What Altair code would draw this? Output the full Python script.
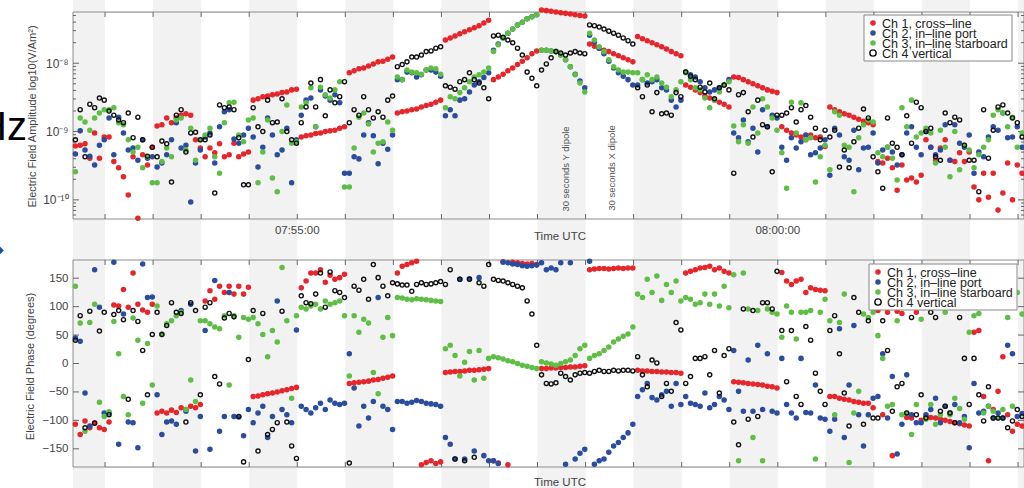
import altair as alt
import pandas as pd

# ---------------- categories / styling ----------------
CHANNELS = ["Ch 1, cross–line", "Ch 2, in–line port", "Ch 3, in–line starboard", "Ch 4 vertical"]
FILLS = ["#e5262b", "#2b4d9e", "#5fbe45", "transparent"]
STROKES = ["#e5262b", "#2b4d9e", "#5fbe45", "#111111"]
SIZES = [17, 17, 17, 40]

# sample times: seconds after 07:50:00, one sample every 3 s from 07:52:41.5
T_START = 161.5
T_STEP = 3.0
N_SAMPLES = 198
TIMES = [T_START + T_STEP * i for i in range(N_SAMPLES)]

# 30-s shaded intervals (seconds after 07:50:00)
BAND_START = [160, 210, 270, 330, 390, 450, 510, 570, 630, 690, 750]
BAND_END = [180, 240, 300, 360, 420, 480, 540, 600, 660, 720, 753.7]
TICK_T = [180 + 30 * i for i in range(20)]
TIME_LABEL_T = [300, 600]
TIME_LABELS = ["07:55:00", "08:00:00"]

# ---------------- amplitude, log10(V/Am^2) ----------------
AMP_CH1 = [
    -9.21, -9.20, -9.18, -9.39, -9.02, -9.39, -9.08,
    -9.08, -9.44, -9.53, -9.66, -9.93, -9.37, -10.27, -9.34, -9.49, -9.23,
    -8.92, -8.90, -8.80, -8.87, -8.80, -8.76, -8.74, -8.76, -9.12, -9.24,
    -9.37, -9.24, -9.31, -9.18, -9.37, -9.34, -9.17, -9.37, -9.33, -9.30,
    -8.54, -8.52, -8.49, -8.48, -8.46, -8.45, -8.43, -8.42, -8.39, -8.38,
    -9.08, -9.06, -9.05, -9.03, -9.02, -9.00, -8.99, -8.98, -8.95, -8.93,
    -8.14, -8.11, -8.08, -8.07, -8.04, -8.01, -7.98, -7.97, -7.94, -7.91,
    -8.73, -8.71, -8.70, -8.68, -8.67, -8.64, -8.62, -8.60, -8.57, -8.54,
    -7.66, -7.63, -7.60, -7.57, -7.54, -7.51, -7.48, -7.45, -7.41, -7.37,
    -8.24, -8.20, -8.16, -8.11, -8.07, -8.02, -7.97, -7.92, -7.86, -7.82,
    -7.22, -7.23, -7.24, -7.25, -7.26, -7.27, -7.28, -7.29, -7.30, -7.31,
    -7.72, -7.75, -7.78, -7.81, -7.83, -7.86, -7.89, -7.92, -7.95, -7.98,
    -7.61, -7.64, -7.67, -7.70, -7.73, -7.76, -7.79, -7.83, -7.86, -7.89,
    -8.32, -8.35, -8.39, -8.43, -8.48, -8.51, -8.54, -8.57, -8.60, -8.64,
    -8.20, -8.21, -8.24, -8.27, -8.30, -8.33, -8.36, -8.39, -8.41, -8.43,
    -8.93, -8.98, -9.02, -9.05, -9.08, -9.12, -9.05, -9.09, -9.08, -9.22,
    -8.64, -8.68, -8.71, -8.74, -8.76, -8.79, -8.82, -8.85, -8.87, -8.90,
    -9.44, -9.46, -9.39, -9.53, -9.86, -9.49, -9.71, -9.68, -9.74, -9.64,
    -9.12, -9.23, -9.42, -9.24, -9.12, -9.42, -9.44, -9.31, -9.44, -9.30,
    -9.81, -10.0, -9.61, -9.96, -9.61, -10.15, -9.90, -9.46, -10.0, -9.49, -9.61,
]
AMP_CH2 = [
    -9.33, -8.99, -9.27, -9.36, -9.49, -9.20, -9.12,
    -8.80, -9.34, -8.79, -9.02, -9.27, -9.24, -9.42, -9.12, -9.39, -9.37,
    -9.52, -9.46, -9.34, -9.12, -8.87, -9.24, -9.20, -10.03, -9.46, -9.27,
    -9.08, -9.02, -9.46, -8.93, -8.71, -8.68, -9.11, -9.17, -9.05, -8.95,
    -9.08, -9.52, -9.23, -8.80, -9.05, -9.34, -9.27, -8.95, -9.75, -9.12,
    -8.76, -8.54, -8.51, -8.93, -8.39, -8.48, -8.54, -8.46, -8.58, -9.61,
    -9.61, -9.37, -9.40, -9.05, -8.87, -9.06, -9.47, -9.17, -9.26, -9.05,
    -8.24, -8.24, -8.13, -8.14, -8.20, -8.17, -8.10, -8.10, -8.13, -8.19,
    -8.77, -8.68, -8.77, -8.54, -8.52, -8.42, -8.32, -8.27, -8.21, -8.14,
    -7.81, -7.72, -7.63, -7.56, -7.50, -7.44, -7.40, -7.35, -7.32, -7.29,
    -7.81, -7.81, -7.82, -7.83, -7.88, -7.95, -8.05, -8.16, -8.26, -8.36,
    -7.59, -7.69, -7.78, -7.86, -7.97, -8.07, -8.14, -8.19, -8.24, -8.32,
    -8.32, -8.24, -8.29, -8.27, -8.24, -8.36, -8.39, -8.54, -8.64, -8.54,
    -8.13, -8.17, -8.20, -8.27, -8.36, -8.42, -8.39, -8.36, -8.32, -8.24,
    -9.02, -9.09, -8.83, -9.15, -8.95, -9.30, -8.68, -8.93, -8.76, -8.80,
    -9.23, -9.42, -9.09, -9.24, -9.15, -9.05, -9.34, -9.31, -9.24, -9.12,
    -9.64, -8.95, -9.05, -9.37, -9.42, -8.98, -9.56, -9.24, -9.23, -9.02,
    -9.46, -9.27, -9.23, -9.30, -9.49, -9.34, -9.02, -8.93, -9.23, -9.34,
    -9.00, -9.23, -9.34, -9.27, -8.90, -9.42, -8.90, -9.17, -9.23, -9.05,
    -9.61, -9.30, -9.37, -9.08, -8.93, -8.98, -8.73, -9.09, -9.08, -8.93, -9.23,
]
AMP_CH3 = [
    -9.59, -8.80, -8.86, -8.98, -8.80, -8.73, -8.68,
    -8.68, -8.65, -8.87, -8.90, -9.12, -9.30, -9.23, -9.53, -9.37, -9.75,
    -9.75, -9.44, -9.24, -9.37, -8.83, -8.80, -9.27, -8.95, -9.42, -9.12,
    -9.05, -8.95, -9.37, -9.61, -8.87, -8.58, -8.57, -9.05, -9.15, -8.83,
    -8.80, -9.75, -9.30, -8.83, -9.68, -9.88, -9.00, -8.61, -9.17, -9.15,
    -8.64, -8.58, -8.36, -8.93, -8.35, -8.46, -8.51, -8.39, -8.27, -9.81,
    -9.81, -9.24, -8.79, -8.73, -8.89, -9.30, -9.17, -9.15, -8.86, -8.98,
    -8.20, -8.24, -8.10, -8.13, -8.14, -8.16, -8.10, -8.07, -8.08, -8.16,
    -8.65, -8.49, -8.52, -8.43, -8.36, -8.27, -8.20, -8.17, -8.13, -8.07,
    -7.83, -7.73, -7.63, -7.56, -7.50, -7.44, -7.40, -7.35, -7.32, -7.29,
    -7.81, -7.81, -7.82, -7.83, -7.88, -7.95, -8.05, -8.17, -8.29, -8.42,
    -7.56, -7.66, -7.76, -7.83, -7.95, -8.05, -8.10, -8.13, -8.13, -8.14,
    -8.14, -8.24, -8.17, -8.24, -8.20, -8.29, -8.35, -8.49, -8.39, -8.27,
    -8.14, -8.24, -8.36, -8.39, -8.51, -8.65, -8.54, -8.42, -8.32, -8.27,
    -8.92, -9.15, -8.90, -9.17, -8.64, -9.02, -8.52, -8.64, -8.80, -8.98,
    -9.31, -9.83, -8.57, -9.02, -8.58, -9.12, -9.09, -9.74, -9.37, -9.20,
    -9.56, -8.71, -8.76, -9.20, -9.23, -9.88, -9.09, -8.90, -8.83, -8.86,
    -9.31, -9.37, -9.23, -9.39, -9.71, -8.65, -8.93, -8.54, -9.08, -9.02,
    -8.95, -9.02, -9.46, -8.98, -9.23, -9.66, -9.00, -9.56, -9.20, -9.27,
    -9.53, -9.34, -9.23, -9.12, -8.76, -8.68, -8.73, -8.93, -8.79, -9.23, -9.02,
]
AMP_CH4 = [
    -9.12, -8.68, -9.37, -8.60, -8.65, -8.51, -8.54,
    -8.70, -8.76, -8.83, -8.87, -8.73, -9.09, -8.79, -9.12, -9.36, -9.23,
    -9.37, -9.14, -9.18, -9.74, -8.76, -8.68, -9.30, -9.02, -9.01, -9.12,
    -9.12, -9.05, -9.90, -8.61, -8.65, -8.64, -8.68, -9.09, -9.78, -9.78,
    -8.65, -8.93, -9.00, -8.54, -8.87, -8.86, -8.52, -9.00, -9.12, -9.17,
    -8.87, -8.64, -8.29, -8.64, -8.24, -8.77, -8.39, -8.58, -8.49, -8.27,
    -8.87, -8.68, -8.76, -8.49, -8.68, -8.80, -8.71, -8.79, -8.54, -8.48,
    -8.05, -8.02, -7.98, -7.91, -7.91, -7.88, -7.83, -7.82, -7.78, -7.76,
    -8.33, -8.35, -8.38, -8.27, -8.24, -8.14, -8.24, -8.29, -8.36, -8.52,
    -7.60, -7.59, -7.62, -7.66, -7.70, -7.78, -7.88, -8.13, -8.22, -8.33,
    -8.10, -8.01, -7.92, -7.83, -7.85, -7.88, -7.85, -7.83, -7.85, -7.86,
    -7.44, -7.45, -7.47, -7.50, -7.53, -7.56, -7.59, -7.63, -7.67, -7.72,
    -8.36, -8.49, -8.32, -8.71, -8.43, -8.74, -8.73, -8.76, -8.43, -8.49,
    -8.13, -8.19, -8.24, -8.35, -8.42, -8.29, -8.52, -8.36, -8.32, -8.39,
    -9.61, -8.46, -8.43, -8.71, -9.08, -8.54, -8.90, -8.93, -9.59, -8.76,
    -8.76, -8.73, -8.65, -8.86, -8.68, -8.62, -8.79, -8.95, -9.12, -8.98,
    -9.08, -8.98, -9.52, -9.27, -9.53, -9.15, -8.95, -8.67, -8.80, -9.37,
    -9.59, -9.83, -8.80, -9.17, -9.23, -9.34, -8.77, -9.17, -8.57, -8.65,
    -9.00, -8.95, -9.37, -9.42, -8.73, -8.87, -8.79, -8.83, -9.20, -9.42,
    -9.42, -9.88, -8.68, -9.39, -8.98, -8.64, -8.61, -8.73, -8.80, -8.87, -9.08,
]

# ---------------- phase, degrees ----------------
PH_CH1 = [
    -107, -125, -101, -113, -104, -113, -116,
    -103, 103, 101, 130, 99, 159, 104, 94, 90, 104,
    -87, -84, -87, -82, -86, -78, -81, -75, -78, -72,
    110, 128, 113, 136, 125, 136, 122, 136, 122, 134,
    -58, -57, -55, -53, -52, -50, -48, -46, -44, -42,
    133, 145, 159, 159, 165, 143, 155, 148, 151, 157,
    -35, -34, -33, -32, -31, -29, -28, -26, -24, -22,
    159, 171, 174, 177, 180, -178, -174, -171, -176, -173,
    -16, -15, -14, -14, -13, -12, -12, -11, -10, -9,
    -171, -175, 179, -178, 178, 177, 176, 175, 176, 174,
    -9, -9, -8, -8, -7, -7, -6, -6, -5, -4,
    165, 166, 167, 167, 166, 167, 168, 167, 168, 168,
    -12, -13, -13, -14, -14, -15, -15, -16, -16, -17,
    159, 162, 165, 168, 169, 171, 165, 168, 162, 159,
    -32, -33, -34, -35, -36, -37, -38, -40, -41, -43,
    160, 145, 139, 145, 148, 125, 133, 130, 129, 128,
    -58, -58, -61, -63, -64, -67, -68, -70, -70, -78,
    93, -90, 90, -162, 92, 88, -95, -96, 90, -100,
    -93, -95, -96, -98, -100, -102, -104, -106, -108, -110,
    55, 58, -58, -171, -81, -49, 12, -90, -119, -107, -110,
]
PH_CH2 = [
    45, 39, -52, -110, 165, 99, -87,
    -87, 178, -142, 87, -103, -104, -148, 175, 116, 117,
    -55, -125, -103, -101, -107, 93, -84, 104, -154, -93,
    58, -151, 146, -119, -93, 125, -93, -94, -127, -81,
    -104, -87, -75, -130, -93, 110, -81, -90, -104, 59,
    -75, -81, -87, -78, -70, -81, -64, -70, -72, -70,
    17, -43, -110, -75, -96, -67, 116, -75, -81, -116,
    -67, -67, -70, -68, -65, -67, -70, -71, -72, -75,
    -130, -142, -168, 148, -168, 149, -154, 151, -162, -171,
    -171, -176, 178, 177, 175, 174, 172, 171, 172, 173,
    177, 165, 168, 165, 177, -177, 177, -168, -158, -151,
    180, -177, -171, -168, -156, -145, -139, -130, -122, -107,
    -58, -46, -35, -60, -64, -55, -49, -75, -35, -72,
    -58, -70, -72, -75, -52, -78, -72, -58, -64, -81,
    23, -49, -84, 6, -84, 32, -81, 17, -84, -87,
    9, -72, -87, -96, 9, -86, -87, -38, -96, -98,
    -119, -98, 61, -130, -38, 67, -90, -145, -90, -61,
    -58, 17, -96, -23, -159, -107, -20, -90, -104, -104,
    -90, -81, -61, -104, -75, -87, -72, -104, -93, -148,
    -35, -87, -84, -75, -96, -87, -96, 32, 17, -93, -88,
]
PH_CH3 = [
    136, 71, -119, 72, 104, -68, -93,
    -85, 74, 17, -58, -90, 80, 41, -70, 35, -38,
    101, 52, 70, 75, 84, 90, -81, -29, -67, 75,
    75, 70, 64, 61, 84, -38, 84, 46, 81, 78,
    81, 70, 51, 12, 58, 38, 169, 75, -61, 84,
    99, 96, 101, 104, 96, 110, 104, 107, 110, 84,
    -22, 84, 55, 78, 71, -16, -53, 46, 81, 49,
    116, 115, 113, 112, 114, 113, 112, 111, 110, 109,
    26, 32, 14, -22, 2, 21, -29, 23, -26, 9,
    12, 10, 8, 5, 3, 0, -3, -5, -7, -9,
    3, 1, -1, -3, 0, 3, 6, 14, 26, 32,
    9, 14, 17, 23, 29, 38, 43, 48, 52, 64,
    122, 116, 148, 125, 154, 111, 139, 125, 145, 110,
    116, 113, 104, 107, 122, 104, 122, 101, 136, 98,
    156, -171, 159, 96, -130, 93, -171, 96, 90, 87,
    46, 101, 90, 43, 90, 90, 93, -168, 90, 113,
    75, -90, 72, 122, -174, -87, -49, 87, 81, 90,
    49, 9, -75, -72, 75, -90, -87, -125, -72, 78,
    -98, -72, -107, -90, 90, -90, -61, -79, -98, 55,
    84, 88, -87, -75, -84, -96, -81, 81, -75, 125, 87,
]
PH_CH4 = [
    41, 84, -113, 92, -105, 57, 90,
    -90, 86, 93, 77, -63, 93, 74, 23, -55, 51,
    90, 51, 67, 107, 90, 88, -103, 107, 93, -55,
    99, 107, -23, -36, 80, 88, 82, -93, -173, 7,
    93, -154, 88, -125, -116, -104, 92, -103, -145, -167,
    119, 107, 105, 122, 159, 99, 161, 128, 125, 116,
    -175, 136, 129, 148, 113, 174, 151, 136, 119, 142,
    140, 138, 138, 127, 139, 142, 139, 140, 142, 144,
    139, 165, -168, 148, -171, 148, -165, 142, 136, 174,
    148, 146, 145, 142, 139, 136, 133, 110, 87, 32,
    -20, -35, -36, -34, -17, -23, -29, -20, -17, -16,
    -17, -14, -12, -14, -14, -12, -13, -12, -12, -13,
    12, -20, -41, 6, 1, -58, -35, -49, 72, 59,
    -35, -23, 9, 9, 12, -20, 23, -52, 14, 26,
    -103, -143, 96, -98, 93, -93, 107, 107, 96, 162,
    58, -32, 58, -58, -72, 65, 41, -17, -49, -72,
    58, 84, 17, -52, -110, 116, 90, -107, 75, -96,
    -96, 75, 23, -84, -41, -35, -87, 81, -90, -55,
    -96, 90, 81, -84, -75, -87, -104, 81, 9, -72,
    9, -55, -101, -41, -96, -96, -96, -113, -101, -81, -93,
]

# ---------------- layout ----------------
W = 951            # plot width (px)
PH = 207           # each panel's height
GAP = 41           # gap between panels
HT = PH + GAP + PH  # whole view height
B0 = PH + GAP      # top of lower panel
FONT = "Liberation Sans"
TXT = "#444444"
FRAME = "#8c8c8c"
TICK = "#666666"


def long_df(series, amplitude):
    rows = []
    for ch, vals in zip(CHANNELS, series):
        for t, v in zip(TIMES, vals):
            rows.append({"t": t, "v": (10 ** v) if amplitude else v, "ch": ch})
    return pd.DataFrame(rows)


x_scale = alt.Scale(domain=[160, 753.7], nice=False, zero=False)
x_axis = alt.Axis(values=TIME_LABEL_T,
                  labelExpr="datum.value == 300 ? '07:55:00' : '08:00:00'",
                  ticks=False, domain=False, grid=False, title=None,
                  labelFontSize=11.5, labelColor=TXT, labelFont=FONT, labelPadding=5)
X = alt.X("t:Q", scale=x_scale, axis=x_axis)
Xn = alt.X("t:Q", scale=x_scale, axis=None)

amp_scale = alt.Scale(type="log", domain=[10 ** -10.28, 10 ** -7.25], nice=False,
                      range=[PH, 0])
ph_scale = alt.Scale(domain=[-182, 182], nice=False, zero=False, range=[HT, B0])

amp_major = [1e-10, 1e-9, 1e-8]
amp_minor = [k * 10.0 ** e for e in (-11, -10, -9, -8) for k in range(2, 10)
             if 10 ** -10.28 < k * 10.0 ** e < 10 ** -7.25]
ph_major = [-150, -100, -50, 0, 50, 100, 150]

amp_axis = alt.Axis(values=amp_major, orient="left",
                    labelExpr="round(log(datum.value)/LN10) == -8 ? '10⁻⁸' : "
                              "round(log(datum.value)/LN10) == -9 ? '10⁻⁹' : '10⁻¹⁰'",
                    ticks=False, domain=False, grid=False,
                    title="Electric Field Amplitude log10(V/Am²)",
                    titleX=-41, titleY=104, titleAngle=270, titleAlign="center",
                    titleBaseline="middle", titleFontSize=11, titleFontWeight="normal",
                    titleColor=TXT, titleFont=FONT,
                    labelFontSize=12, labelColor=TXT, labelFont=FONT, labelPadding=5)
ph_axis = alt.Axis(values=ph_major, orient="left",
                   labelExpr="replace(format(datum.value, 'd'), '-', '−')",
                   ticks=False, domain=False, grid=False,
                   title="Electric Field Phase (degrees)",
                   titleX=-43, titleY=B0 + 106, titleAngle=270, titleAlign="center",
                   titleBaseline="middle", titleFontSize=11, titleFontWeight="normal",
                   titleColor=TXT, titleFont=FONT,
                   labelFontSize=11.5, labelColor=TXT, labelFont=FONT, labelPadding=5)


def points(df, yscale, yaxis):
    return alt.Chart(df).mark_point(opacity=1, strokeWidth=1.4).encode(
        x=X,
        y=alt.Y("v:Q", scale=yscale, axis=yaxis),
        fill=alt.Fill("ch:N", scale=alt.Scale(domain=CHANNELS, range=FILLS), legend=None),
        stroke=alt.Stroke("ch:N", scale=alt.Scale(domain=CHANNELS, range=STROKES), legend=None),
        size=alt.Size("ch:N", scale=alt.Scale(domain=CHANNELS, range=SIZES), legend=None),
    )


def text_mark(s, x, y, size=11.5, color=TXT, angle=0, font=FONT, align="center",
              baseline="middle"):
    return alt.Chart(pd.DataFrame({"s": [s]})).mark_text(
        fontSize=size, color=color, angle=angle, font=font, align=align, baseline=baseline
    ).encode(text="s:N", x=alt.value(x), y=alt.value(y))


def box(x0, x1, y0, y1, stroke=FRAME, fill=None):
    kw = dict(stroke=stroke, strokeWidth=1)
    if fill is None:
        mk = alt.Chart(pd.DataFrame({"a": [0]})).mark_rect(filled=False, **kw)
    else:
        mk = alt.Chart(pd.DataFrame({"a": [0]})).mark_rect(fill=fill, **kw)
    return mk.encode(x=alt.value(x0), x2=alt.value(x1), y=alt.value(y0), y2=alt.value(y1))


def legend_layers(x0, y0, w, h, row_h=10):
    out = [box(x0, x0 + w, y0, y0 + h, stroke="#888888", fill="white")]
    for i, (ch, f, s, sz) in enumerate(zip(CHANNELS, FILLS, STROKES, SIZES)):
        yy = y0 + 8 + row_h * i
        out.append(alt.Chart(pd.DataFrame({"a": [0]})).mark_point(
            opacity=1, strokeWidth=1.4, fill=f, stroke=s, size=sz
        ).encode(x=alt.value(x0 + 9), y=alt.value(yy)))
        out.append(text_mark(ch, x0 + 18, yy + 0.5, size=12.5, color="#222222",
                             align="left"))
    return out


# shaded 30-s bands over the whole figure height
bands = alt.Chart(pd.DataFrame({"t": BAND_START, "t2": BAND_END})).mark_rect(
    color="#f2f2f2").encode(x=Xn, x2="t2:Q", y=alt.value(-12), y2=alt.value(HT + 21))

# inward ticks along time axes
tdf = pd.DataFrame({"t": TICK_T})
time_ticks = [
    alt.Chart(tdf).mark_rule(color=TICK).encode(x=Xn, y=alt.value(y0), y2=alt.value(y1))
    for (y0, y1) in [(0, 5), (PH - 5, PH), (B0, B0 + 5), (HT - 5, HT)]
]

# inward ticks along value axes
amp_ticks = [
    alt.Chart(pd.DataFrame({"v": vals})).mark_rule(color=TICK).encode(
        y=alt.Y("v:Q", scale=amp_scale, axis=None), x=alt.value(x0), x2=alt.value(x1))
    for vals, x0, x1 in [(amp_major, 0, 6), (amp_minor, 0, 3), (amp_major, W - 6, W),
                         (amp_minor, W - 3, W)]
]
ph_ticks = [
    alt.Chart(pd.DataFrame({"v": ph_major})).mark_rule(color=TICK).encode(
        y=alt.Y("v:Q", scale=ph_scale, axis=None), x=alt.value(x0), x2=alt.value(x1))
    for x0, x1 in [(0, 6), (W - 6, W)]
]

# time labels of the upper panel
top_time_labels = alt.Chart(pd.DataFrame({"t": TIME_LABEL_T, "s": TIME_LABELS})).mark_text(
    fontSize=11.5, color=TXT, font=FONT, baseline="middle"
).encode(x=Xn, y=alt.value(PH + 12), text="s:N")

amp_df = long_df([AMP_CH1, AMP_CH2, AMP_CH3, AMP_CH4], True)
ph_df = long_df([PH_CH1, PH_CH2, PH_CH3, PH_CH4], False)

amp_pts = points(amp_df, amp_scale, amp_axis)
ph_pts = points(ph_df, ph_scale, ph_axis)

texts = [
    top_time_labels,
    text_mark("Time UTC", 487, PH + 18),
    text_mark("Time UTC", 487, HT + 16),
    text_mark("30 seconds Y dipole", 493, 157, size=9.5, color="#555555", angle=270),
    text_mark("30 seconds X dipole", 539, 156, size=9.5, color="#555555", angle=270),
    text_mark("Hz", -95, 128, size=40, color="#000000", align="left", baseline="alphabetic"),
    text_mark("◆", -73, B0 - 10, size=10, color="#2b4d9e"),
]

legends = legend_layers(791, 3, 148, 46) + legend_layers(796, B0 + 4, 148, 46)

layers = [bands, box(0, W, 0, PH), box(0, W, B0, HT)] + time_ticks + amp_ticks + \
         ph_ticks + [amp_pts, ph_pts] + texts + legends

chart = alt.layer(*layers).resolve_scale(
    y="independent", fill="independent", stroke="independent", size="independent"
).properties(
    width=W, height=HT,
    autosize=alt.AutoSizeParams(type="none"),
    padding={"left": 73, "top": 12, "right": 0, "bottom": 21},
).configure_view(stroke=None).configure(background="white")

chart.save("out.html", embed_options={"renderer": "svg", "actions": False})
